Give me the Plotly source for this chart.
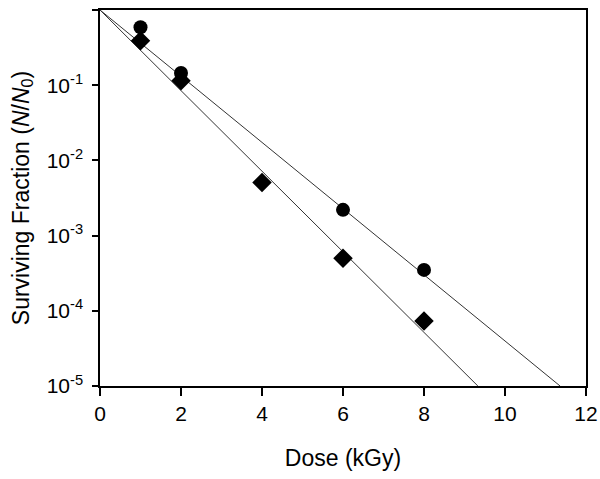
import plotly.graph_objects as go

# measured survival data
dose_circle = [1, 2, 6, 8]
sf_circle = [0.59, 0.145, 0.0022, 3.5e-4]

dose_diamond = [1, 2, 4, 6, 8]
sf_diamond = [0.39, 0.115, 0.0051, 5.0e-4, 7.3e-5]

# fitted lines (end points)
fit_circle_x = [0, 11.36]
fit_circle_y = [1, 1e-5]
fit_diamond_x = [0, 9.33]
fit_diamond_y = [1, 1e-5]

y_tickvals = [1, 1e-1, 1e-2, 1e-3, 1e-4, 1e-5]
y_ticktext = ["1", "10<sup>-1</sup>", "10<sup>-2</sup>", "10<sup>-3</sup>",
              "10<sup>-4</sup>", "10<sup>-5</sup>"]
x_tickvals = [0, 2, 4, 6, 8, 10, 12]

FONT = "Liberation Sans"

fig = go.Figure()

fig.add_trace(go.Scatter(
    x=fit_circle_x, y=fit_circle_y, mode="lines",
    line=dict(color="#333333", width=1), showlegend=False,
))
fig.add_trace(go.Scatter(
    x=fit_diamond_x, y=fit_diamond_y, mode="lines",
    line=dict(color="#333333", width=1), showlegend=False,
))
fig.add_trace(go.Scatter(
    x=dose_circle, y=sf_circle, mode="markers",
    marker=dict(symbol="circle", size=14, color="black"), showlegend=False,
))
fig.add_trace(go.Scatter(
    x=dose_diamond, y=sf_diamond, mode="markers",
    marker=dict(symbol="diamond", size=15, color="black"), showlegend=False,
))

fig.update_layout(
    width=600, height=479,
    margin=dict(l=100, r=14, t=10, b=93),
    plot_bgcolor="white", paper_bgcolor="white",
    font=dict(family=FONT, color="black", size=21),
    xaxis=dict(
        range=[0, 12], tickvals=x_tickvals,
        ticks="outside", ticklen=8, tickwidth=1.5, tickcolor="black",
        showline=True, linecolor="black", linewidth=1.5, mirror=True,
        showgrid=False, zeroline=False, automargin=False,
        tickfont=dict(family=FONT, size=21),
        title=dict(text="Dose (kGy)", font=dict(family=FONT, size=23), standoff=26),
    ),
    yaxis=dict(
        type="log", range=[-5, 0],
        tickvals=y_tickvals, ticktext=y_ticktext,
        ticks="outside", ticklen=6, tickwidth=1.5, tickcolor="black",
        ticklabelstandoff=5,
        showline=True, linecolor="black", linewidth=1.5, mirror=True,
        showgrid=False, zeroline=False, automargin=False,
        tickfont=dict(family=FONT, size=21),
        title=dict(text="Surviving Fraction (<i>N</i>/<i>N</i><sub>0</sub>)",
                   font=dict(family=FONT, size=23), standoff=11),
    ),
)

# page body has an 8px default margin; drop it so the figure sits at (0, 0)
fig.write_html("out.html", config={"displayModeBar": False},
               post_script="document.body.style.margin='0px';")
